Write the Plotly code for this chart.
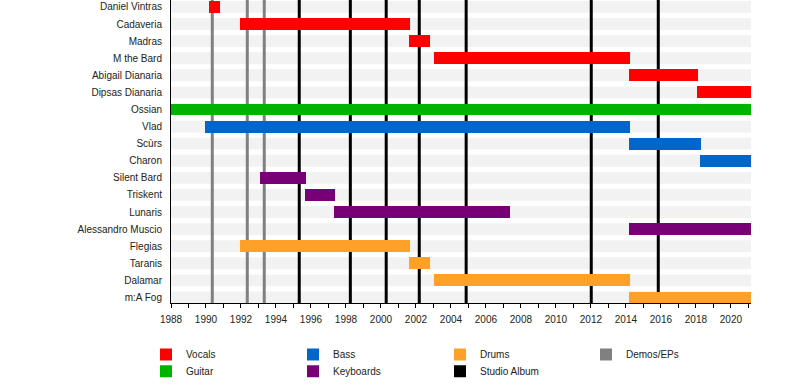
import plotly.graph_objects as go

# ---- data ----
members = ["Daniel Vintras", "Cadaveria", "Madras", "M the Bard", "Abigail Dianaria",
           "Dipsas Dianaria", "Ossian", "Vlad", "Scùrs", "Charon", "Silent Bard",
           "Triskent", "Lunaris", "Alessandro Muscio", "Flegias", "Taranis",
           "Dalamar", "m:A Fog"]
roles = ["Vocals", "Vocals", "Vocals", "Vocals", "Vocals", "Vocals", "Guitar",
         "Bass", "Bass", "Bass", "Keyboards", "Keyboards", "Keyboards", "Keyboards",
         "Drums", "Drums", "Drums", "Drums"]
START_YEAR = 1988.0
END_YEAR = 2021.15
starts = [1990.17, 1991.94, 2001.60, 2003.03, 2014.17, 2018.06, 1988.0, 1989.94,
          2014.17, 2018.23, 1993.09, 1995.66, 1997.31, 2014.17, 1991.94, 2001.60,
          2003.03, 2014.17]
ends = [1990.80, 2001.66, 2002.80, 2014.23, 2018.11, END_YEAR, END_YEAR, 2014.23,
        2018.29, END_YEAR, 1995.71, 1997.37, 2007.37, END_YEAR, 2001.66, 2002.80,
        2014.23, END_YEAR]
studio_albums = [1995.33, 1998.25, 2000.30, 2002.19, 2004.87, 2012.02, 2015.85]
demos_eps = [1990.36, 1992.36, 1993.33]
role_colors = {"Vocals": "#ff0000", "Guitar": "#00b300", "Bass": "#0066cc",
               "Keyboards": "#770077", "Drums": "#ffa126"}
line_colors = {"Studio Album": "#000000", "Demos/EPs": "#808080"}

# ---- layout constants ----
BAR_W = 0.695
Y_RANGE = [17.323, -0.4056]
FONT = "Liberation Sans"

fig = go.Figure()

# background bands
shapes = []
for i in range(len(members)):
    shapes.append(dict(type="rect", xref="x", yref="y", x0=START_YEAR, x1=END_YEAR,
                       y0=i - BAR_W / 2, y1=i + BAR_W / 2, fillcolor="#f2f2f2",
                       line=dict(width=0), layer="below"))
for d in demos_eps:
    shapes.append(dict(type="line", xref="x", yref="y", x0=d, x1=d,
                       y0=Y_RANGE[1], y1=Y_RANGE[0],
                       line=dict(color=line_colors["Demos/EPs"], width=3), layer="below"))
for d in studio_albums:
    shapes.append(dict(type="line", xref="x", yref="y", x0=d, x1=d,
                       y0=Y_RANGE[1], y1=Y_RANGE[0],
                       line=dict(color=line_colors["Studio Album"], width=3), layer="below"))

# legend placement: (column, row)
legend_pos = {"Vocals": (0, 0), "Guitar": (0, 1), "Bass": (1, 0), "Keyboards": (1, 1),
              "Drums": (2, 0), "Studio Album": (2, 1), "Demos/EPs": (3, 0)}
col_px = [146, 293, 440, 586]
row_px = [358, 375]
PLOT_L, PLOT_W, PLOT_H = 171, 580, 306

legend_names = {}
layout_legends = {}
for k, name in enumerate(["Vocals", "Guitar", "Bass", "Keyboards", "Drums", "Studio Album", "Demos/EPs"]):
    lid = "legend" if k == 0 else f"legend{k+1}"
    legend_names[name] = lid
    c, r = legend_pos[name]
    layout_legends[lid] = dict(x=(col_px[c] - PLOT_L) / PLOT_W, xanchor="left",
                               y=(PLOT_H - row_px[r]) / PLOT_H, yanchor="middle",
                               font=dict(family=FONT, size=10, color="#222"),
                               bgcolor="rgba(0,0,0,0)", borderwidth=0)

for role in ["Vocals", "Guitar", "Bass", "Keyboards", "Drums"]:
    idx = [i for i, r in enumerate(roles) if r == role]
    fig.add_trace(go.Bar(
        orientation="h",
        y=[i for i in idx],
        base=[starts[i] for i in idx],
        x=[ends[i] - starts[i] for i in idx],
        width=BAR_W,
        marker=dict(color=role_colors[role], line=dict(width=0)),
        name=role, legend=legend_names[role], showlegend=True,
        hovertext=[members[i] for i in idx],
    ))

for name in ["Studio Album", "Demos/EPs"]:
    fig.add_trace(go.Bar(orientation="h", x=[None], y=[None], name=name,
                         marker=dict(color=line_colors[name], line=dict(width=0)),
                         legend=legend_names[name], showlegend=True))

fig.update_layout(
    width=800, height=386,
    margin=dict(l=PLOT_L, r=800 - PLOT_L - PLOT_W, t=0, b=386 - PLOT_H),
    plot_bgcolor="white", paper_bgcolor="white",
    barmode="overlay", bargap=0,
    shapes=shapes,
    font=dict(family=FONT, size=10, color="#222"),
    xaxis=dict(range=[START_YEAR, END_YEAR], tick0=1988, dtick=2, ticks="outside",
               ticklen=4, tickcolor="black", tickwidth=1, showline=True,
               linecolor="black", linewidth=1, showgrid=False, zeroline=False,
               ticklabelstandoff=3,
               minor=dict(dtick=1, ticks="outside", ticklen=4, tickcolor="black",
                          showgrid=False),
               tickfont=dict(family=FONT, size=10, color="#222")),
    yaxis=dict(range=Y_RANGE, tickmode="array",
               tickvals=list(range(len(members))), ticktext=members,
               showline=True, linecolor="black", linewidth=1, showgrid=False,
               zeroline=False, ticks="", ticklabelstandoff=6,
               tickfont=dict(family=FONT, size=10, color="#222")),
    **layout_legends,
)

fig.write_html("out.html", config={"displayModeBar": False},
               post_script="document.body.style.margin='0';document.body.style.padding='0';")
